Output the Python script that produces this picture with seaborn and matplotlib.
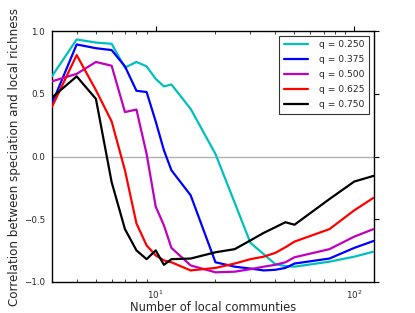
import matplotlib
matplotlib.use("Agg")
import matplotlib.pyplot as plt
import seaborn as sns

# number of local communities (x) and correlation per q value
n_local = [3, 4, 5, 6, 7, 8, 9, 10, 11, 12, 15, 20, 25, 30, 35, 40, 45, 50, 75, 100, 125]

corr_q250 = [0.64, 0.935, 0.91, 0.90, 0.71, 0.755, 0.72, 0.62, 0.56, 0.575, 0.38, 0.02,
             -0.37, -0.69, -0.78, -0.86, -0.875, -0.88, -0.84, -0.80, -0.76]
corr_q375 = [0.42, 0.895, 0.865, 0.85, 0.72, 0.525, 0.515, 0.28, 0.05, -0.11, -0.31, -0.845,
             -0.88, -0.895, -0.91, -0.905, -0.89, -0.855, -0.815, -0.73, -0.675]
corr_q500 = [0.60, 0.66, 0.755, 0.725, 0.355, 0.375, 0.02, -0.40, -0.55, -0.73, -0.87, -0.925,
             -0.92, -0.90, -0.88, -0.865, -0.845, -0.805, -0.74, -0.64, -0.58]
corr_q625 = [0.395, 0.81, 0.53, 0.28, -0.11, -0.535, -0.71, -0.79, -0.83, -0.845, -0.91, -0.89,
             -0.855, -0.82, -0.80, -0.77, -0.725, -0.68, -0.58, -0.43, -0.33]
corr_q750 = [0.47, 0.64, 0.46, -0.205, -0.58, -0.75, -0.82, -0.75, -0.865, -0.82, -0.815, -0.765,
             -0.74, -0.67, -0.61, -0.565, -0.525, -0.545, -0.34, -0.20, -0.155]

labels = ["q = 0.250", "q = 0.375", "q = 0.500", "q = 0.625", "q = 0.750"]
colors = [(0, 0.75, 0.75), (0, 0, 1), (0.75, 0, 0.75), (1, 0, 0), (0, 0, 0)]
series = [corr_q250, corr_q375, corr_q500, corr_q625, corr_q750]

sns.set_style("white")
plt.rcParams["font.family"] = ["DejaVu Sans"]

fig, ax = plt.subplots(figsize=(4.15, 3.13), dpi=100)
fig.subplots_adjust(left=0.125, right=0.9, bottom=0.1, top=0.9)

ax.axhline(0, color="#b0b0b0", lw=1.0, zorder=1)
for vals, lab, col in zip(series, labels, colors):
    sns.lineplot(x=n_local, y=vals, color=col, lw=1.6, label=lab, ax=ax, zorder=3)

ax.set_xscale("log")
ax.set_xlim(3, 125)
ax.set_ylim(-1, 1)
ax.set_yticks([-1.0, -0.5, 0.0, 0.5, 1.0])
ax.set_yticklabels(["\u22121.0", "\u22120.5", "0.0", "0.5", "1.0"])

for side in ["left", "right", "top", "bottom"]:
    ax.spines[side].set_visible(True)
    ax.spines[side].set_color("black")
    ax.spines[side].set_linewidth(1.0)

ax.tick_params(axis="both", which="major", labelsize=6.3, direction="out",
               length=3.5, width=0.8, color="black", pad=1.5, top=True, right=False)
ax.tick_params(axis="x", which="minor", direction="in", length=2, width=0.6,
               bottom=True, top=True)
ax.tick_params(axis="y", which="major", right=True)

ax.set_xlabel("Number of local communties", fontsize=8.3, labelpad=0)
ax.set_ylabel("Correlation between speciation and local richness", fontsize=8.6, labelpad=2)

leg = ax.legend(loc="upper right", fontsize=6.6, frameon=True, fancybox=False,
                edgecolor="black", handlelength=2.6, borderaxespad=0.5,
                labelspacing=0.65, handletextpad=1.2, borderpad=0.5)
leg.get_frame().set_linewidth(0.8)

plt.savefig("out.png", dpi=100)
plt.close()
